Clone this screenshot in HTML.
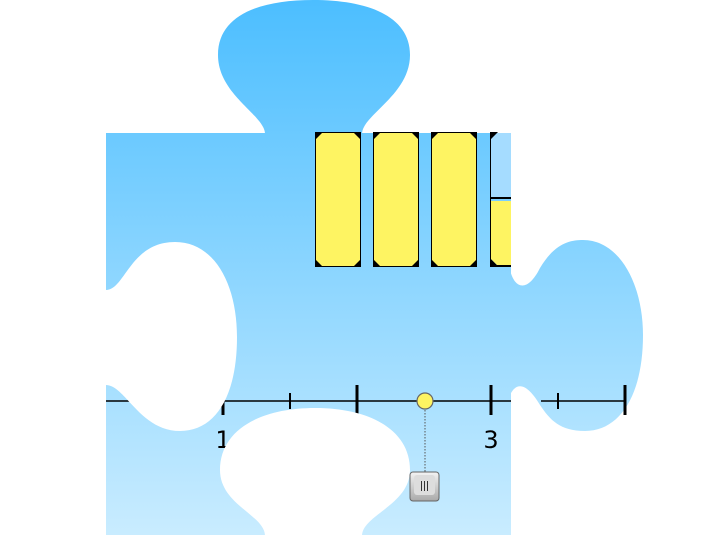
<!DOCTYPE html>
<html><head><meta charset="utf-8"><style>html,body{margin:0;padding:0;background:#fff}svg{display:block}</style></head>
<body>
<svg width="716" height="535" viewBox="0 0 716 535" xmlns="http://www.w3.org/2000/svg">
<defs>
<linearGradient id="g" x1="0" y1="0" x2="0" y2="535" gradientUnits="userSpaceOnUse">
<stop offset="0" stop-color="#4cbeff"/><stop offset="1" stop-color="#c9ecff"/></linearGradient>
<linearGradient id="b" x1="0" y1="0" x2="0" y2="1"><stop offset="0" stop-color="#f4f4f4"/><stop offset="1" stop-color="#a9a9a9"/></linearGradient>
</defs>
<rect x="106" y="133" width="405" height="402" fill="url(#g)"/>
<path d="M265,134 C265,115 218,95 218,55 C218,15 260,0 313,0 C366,0 410,15 410,55 C410,95 362,115 362,134 Z" fill="url(#g)"/>
<path d="M510,270 C515,290 528,292 540,268 C555,243 570,240 583,240 C620,240 643,285 643,335 C643,395 620,431 585,431 C560,431 550,420 540,405 C530,388 518,378 510,395 Z" fill="url(#g)"/>
<rect x="490" y="133" width="21" height="66" fill="#a5dcff"/>
<g>
<path d="M315,132 h46 v135 h-46 z" fill="#000"/>
<path d="M322,133 h32 l6,6 v121 l-6,6 h-32 l-6,-6 v-121 z" fill="#fef462"/>
<path d="M373,132 h46 v135 h-46 z" fill="#000"/>
<path d="M380,133 h32 l6,6 v121 l-6,6 h-32 l-6,-6 v-121 z" fill="#fef462"/>
<path d="M431,132 h46 v135 h-46 z" fill="#000"/>
<path d="M438,133 h32 l6,6 v121 l-6,6 h-32 l-6,-6 v-121 z" fill="#fef462"/>
<path d="M490,132 v135 h21 v-2 h-14 l-6,-6 v-60 h20 v-2 h-21z" fill="#000"/>
<path d="M491,201 h20 v64 h-14 l-6,-6 z" fill="#fef462"/>
<path d="M490,132 h8 l-7,7 v60 h-1z" fill="#000"/>
</g>
<g stroke="#000" stroke-width="1.5"><line x1="106" y1="401" x2="511" y2="401"/><line x1="541" y1="401" x2="626" y2="401"/></g>
<g stroke="#000" stroke-width="3">
<line x1="223" y1="385" x2="223" y2="415"/><line x1="357" y1="385" x2="357" y2="415"/>
<line x1="491" y1="385" x2="491" y2="415"/><line x1="625" y1="385" x2="625" y2="415"/></g>
<g stroke="#000" stroke-width="2"><line x1="290" y1="393" x2="290" y2="409"/><line x1="558" y1="393" x2="558" y2="409"/></g>
<text x="223" y="448" font-family="DejaVu Sans, sans-serif" font-size="24" text-anchor="middle">1</text>
<text x="491" y="448" font-family="DejaVu Sans, sans-serif" font-size="24" text-anchor="middle">3</text>
<path d="M106,290 C125,290 130,242 175,242 C215,242 237,285 237,337 C237,397 215,431 180,431 C140,431 125,385 106,385 Z" fill="#fff"/>
<path d="M265,536 C265,515 220,505 220,470 C220,430 260,408 315,408 C370,408 410,430 410,470 C410,505 362,515 362,536 Z" fill="#fff"/>
<line x1="425" y1="401" x2="425" y2="473" stroke="#555" stroke-width="1" stroke-dasharray="1.5,1.5"/>
<circle cx="425" cy="401" r="8" fill="#fef462" stroke="#666" stroke-width="1.2"/>
<rect x="410" y="472" width="29" height="29" rx="3" fill="url(#b)" stroke="#666"/>
<rect x="414" y="475" width="21" height="20" rx="3" fill="#ddd"/>
<g stroke="#333" stroke-width="1"><line x1="421.5" y1="481" x2="421.5" y2="491"/><line x1="424.5" y1="481" x2="424.5" y2="491"/><line x1="427.5" y1="481" x2="427.5" y2="491"/></g>
</svg>
</body></html>
